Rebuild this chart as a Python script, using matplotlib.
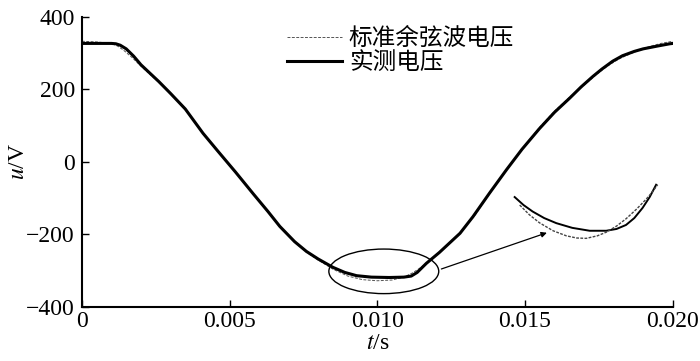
import numpy as np
import matplotlib
matplotlib.use("Agg")
import matplotlib.pyplot as plt
from matplotlib.patches import Ellipse

plt.rcParams['font.family'] = ['Liberation Serif', 'Noto Sans CJK SC']
plt.rcParams['mathtext.fontset'] = 'stix'

# measured voltage (time in ms, voltage in V)
t_meas = [0, 0.6, 1.0, 1.15, 1.3, 1.5, 1.75, 2.0, 2.3, 2.6, 3.0, 3.5, 4.1, 4.6, 5.2,
          5.8, 6.3, 6.7, 7.2, 7.6, 8.0, 8.5, 8.9, 9.3, 9.8, 10.4, 10.9, 11.15, 11.35,
          11.66, 12.1, 12.8, 13.24, 13.8, 14.37, 14.9, 15.49, 16.0, 16.5, 16.9, 17.3,
          17.6, 17.97, 18.3, 18.7, 19.0, 19.5, 19.9, 20.0]
u_meas = [327, 327, 327, 326, 322, 312, 292, 268, 245, 222, 189, 146, 79, 30, -28,
          -88, -137, -178, -220, -247, -268, -291, -305, -314, -318, -319, -318, -315, -305,
          -280, -250, -197, -151, -86, -22, 35, 92, 137, 175, 207, 236,
          256, 278, 293, 305, 312, 320, 326, 327]

# standard cosine voltage
t_std = [0, 0.5, 1.0, 1.2, 1.4, 1.7, 2.0, 2.3, 2.6, 3.0, 3.5, 4.1, 4.6, 5.2, 5.8,
         6.3, 6.7, 7.2, 7.6, 8.0, 8.5, 9.0, 9.5, 10.0, 10.5, 10.9, 11.2, 11.5, 11.8,
         12.2, 12.8, 13.3, 13.8, 14.4, 14.9, 15.5, 16.0, 16.5, 17.0, 17.4, 17.8, 18.2,
         18.7, 19.2, 19.6, 20.0]
u_std = [333, 331, 327, 320, 309, 288, 264, 242, 220, 187, 146, 80, 30, -28, -88,
         -137, -178, -221, -249, -271, -296, -315, -325, -328, -326, -318, -306, -290, -270,
         -242, -196, -148, -88, -20, 36, 96, 140, 178, 212, 240, 265, 285,
         303, 318, 327, 333]

# zoomed-in detail curves (drawn in axes data units)
t_zoom_meas = [14.65, 14.95, 15.26, 15.65, 16.06, 16.6, 17.19, 17.75, 18.1, 18.42,
               18.7, 18.98, 19.22, 19.44]
u_zoom_meas = [-97, -119, -137, -155, -169, -182, -190, -190, -185, -174,
               -155, -127, -97, -63]
t_zoom_std = [14.82, 15.15, 15.49, 15.95, 16.40, 16.75, 17.07, 17.45, 17.75, 18.1,
              18.42, 18.78, 19.10, 19.30, 19.49]
u_zoom_std = [-119, -146, -168, -190, -204, -210, -211, -204, -194, -177,
              -157, -130, -103, -84, -63]

fig = plt.figure(figsize=(7, 3.61), dpi=100)
ax = fig.add_axes([0.117, 0.150, 0.844, 0.803])

ms = 1e-3
ax.plot(np.array(t_std) * ms, u_std, '--', color='#555555', lw=0.7, dashes=(3, 1.5),
        label='标准余弦波电压', zorder=2)
ax.plot(np.array(t_meas) * ms, u_meas, '-', color='black', lw=2.2,
        label='实测电压', zorder=3, solid_joinstyle='round')

ax.plot(np.array(t_zoom_meas) * ms, u_zoom_meas, '-', color='black', lw=1.4)
ax.plot(np.array(t_zoom_std) * ms, u_zoom_std, '--', color='#444444', lw=1.0,
        dashes=(2, 1))

ax.add_patch(Ellipse((10.22 * ms, -302), 3.72 * ms, 123, fill=False,
                     edgecolor='black', lw=1.0))
ax.annotate('', xy=(15.83 * ms, -193), xytext=(12.08 * ms, -298),
            arrowprops=dict(arrowstyle='-|>', color='black', lw=0.9,
                            mutation_scale=8))

ax.set_xlim(0, 0.020)
ax.set_ylim(-400, 400)
ax.set_xticks([0, 0.005, 0.010, 0.015, 0.020])
ax.set_xticklabels(['0', '0.005', '0.010', '0.015', '0.020'])
ax.set_yticks([-400, -200, 0, 200, 400])

for s in ['top', 'right']:
    ax.spines[s].set_visible(False)
for s in ['left', 'bottom']:
    ax.spines[s].set_linewidth(1.5)
ax.tick_params(direction='in', length=5, width=1.0, labelsize=17)
ax.tick_params(axis='x', pad=3)
ax.tick_params(axis='y', pad=5)

ax.set_xlabel('$t$/s', fontsize=17, labelpad=1)
ax.set_ylabel('$u$/V', fontsize=17, labelpad=-2)

ax.legend(loc='upper left', bbox_to_anchor=(0.332, 0.995), frameon=False,
          fontsize=17, handlelength=2.3, handletextpad=0.3, labelspacing=0.1,
          borderaxespad=0)

fig.savefig('out.png', dpi=100)
